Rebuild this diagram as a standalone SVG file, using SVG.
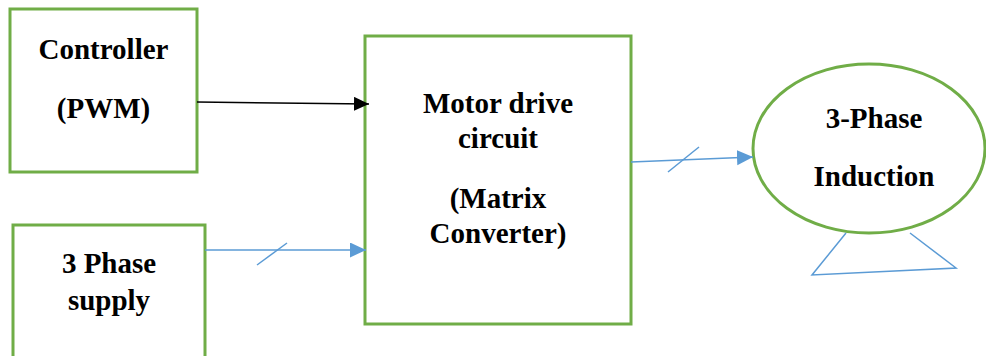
<svg xmlns="http://www.w3.org/2000/svg" width="986" height="356" viewBox="0 0 986 356">
<style>
.box{fill:#fff;stroke:#70AD47;stroke-width:3}
.lbl{font-family:"Liberation Serif","Times New Roman",serif;font-weight:bold;font-size:29px;fill:#000;text-anchor:middle}
.blue{stroke:#5B9BD5;stroke-width:1.5;fill:none}
.black{stroke:#000;stroke-width:1.5;fill:none}
</style>
<defs>
<marker id="ahBlack" markerUnits="userSpaceOnUse" markerWidth="16" markerHeight="16" viewBox="0 0 16 16" refX="15" refY="7" orient="auto">
<path d="M0,0 L15,7 L0,14 Z" fill="#000"/>
</marker>
<marker id="ahBlue" markerUnits="userSpaceOnUse" markerWidth="17" markerHeight="16" viewBox="0 0 17 16" refX="16" refY="7.5" orient="auto">
<path d="M0,0 L16,7.5 L0,15 Z" fill="#5B9BD5"/>
</marker>
</defs>
<rect width="986" height="356" fill="#fff"/>
<g id="controller">
<rect class="box" x="10" y="9" width="187" height="163"/>
<text class="lbl" x="103.5" y="59">Controller</text>
<text class="lbl" x="103.5" y="118">(PWM)</text>
</g>
<g id="supply">
<rect class="box" x="13" y="225" width="192" height="140"/>
<text class="lbl" x="109" y="273">3 Phase</text>
<text class="lbl" x="109" y="310">supply</text>
</g>
<g id="drive">
<rect class="box" x="365" y="36" width="266" height="288"/>
<text class="lbl" x="498" y="113">Motor drive</text>
<text class="lbl" x="498" y="148">circuit</text>
<text class="lbl" x="498" y="208">(Matrix</text>
<text class="lbl" x="498" y="243">Converter)</text>
</g>
<g id="motor">
<ellipse cx="869" cy="148.5" rx="116" ry="84.5" fill="#fff" stroke="#70AD47" stroke-width="3"/>
<text class="lbl" x="874" y="128">3-Phase</text>
<text class="lbl" x="874" y="186">Induction</text>
<polyline class="blue" points="846,233 812,275 956,268 910,233"/>
</g>
<g id="connectors">
<line class="black" x1="197" y1="102" x2="369" y2="104" marker-end="url(#ahBlack)"/>
<line class="blue" x1="205" y1="250" x2="366" y2="250" marker-end="url(#ahBlue)"/>
<line class="blue" x1="257" y1="265" x2="287" y2="243"/>
<line class="blue" x1="631" y1="162" x2="753" y2="157" marker-end="url(#ahBlue)"/>
<line class="blue" x1="668" y1="172" x2="699" y2="147"/>
</g>
</svg>
